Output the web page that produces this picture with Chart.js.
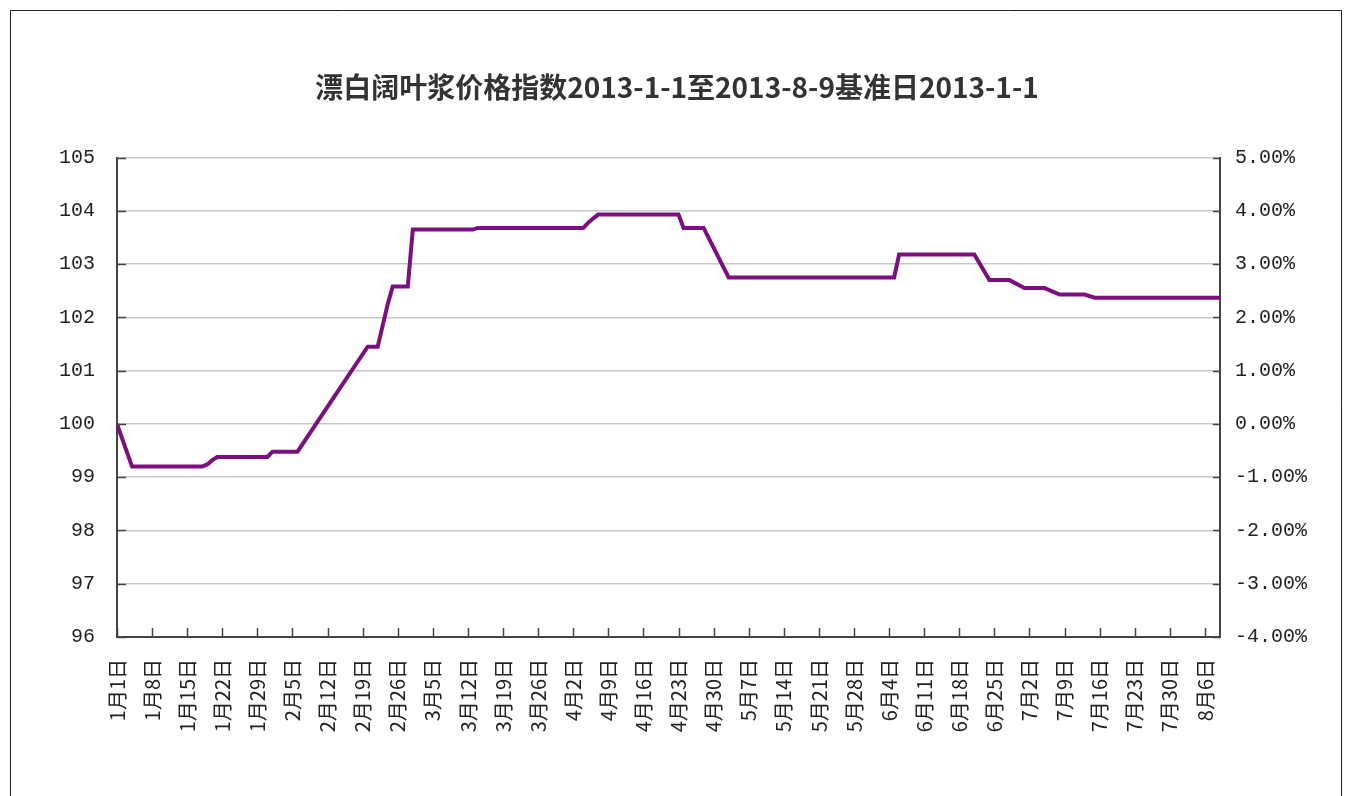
<!DOCTYPE html>
<html>
<head>
<meta charset="utf-8">
<script src="https://cdn.jsdelivr.net/npm/chart.js@4.4.0/dist/chart.umd.min.js"></script>
<style>
  html, body { margin: 0; padding: 0; background: #fff; }
</style>
</head>
<body>
<canvas id="myChart" width="1354" height="796"></canvas>
<script>
// day index from 1月1日 and index value
const days = [0, 3, 17, 18, 19, 20, 30, 31, 36, 50, 52, 53, 54, 55, 58, 59, 71, 72, 93, 94, 95, 96, 112, 113, 117, 122, 155, 156, 171, 174, 178, 181, 185, 188, 193, 195, 220];
const values = [100, 99.2, 99.2, 99.24, 99.32, 99.38, 99.38, 99.48, 99.48, 101.45, 101.45, 101.85, 102.25, 102.58, 102.58, 103.65, 103.65, 103.68, 103.68, 103.78, 103.86, 103.93, 103.93, 103.68, 103.68, 102.75, 102.75, 103.18, 103.18, 102.7, 102.7, 102.55, 102.55, 102.43, 102.43, 102.37, 102.37];

const tickLabels = ["1月1日", "1月8日", "1月15日", "1月22日", "1月29日", "2月5日", "2月12日", "2月19日", "2月26日", "3月5日", "3月12日", "3月19日", "3月26日", "4月2日", "4月9日", "4月16日", "4月23日", "4月30日", "5月7日", "5月14日", "5月21日", "5月28日", "6月4日", "6月11日", "6月18日", "6月25日", "7月2日", "7月9日", "7月16日", "7月23日", "7月30日", "8月6日"];

const titleText = "漂白阔叶浆价格指数2013-1-1至2013-8-9基准日2013-1-1";

const axisColor = "#444";

// short tick marks pointing into the plot, plus the outer frame
const innerTicks = {
  id: "innerTicks",
  afterDraw(chart) {
    const ctx = chart.ctx;
    const a = chart.chartArea;
    const x = chart.scales.x;
    const y = chart.scales.y;
    const y2 = chart.scales.y2;
    ctx.save();
    ctx.strokeStyle = axisColor;
    ctx.lineWidth = 1.5;
    ctx.beginPath();
    x.ticks.forEach(t => {
      const px = Math.round(x.getPixelForValue(t.value)) + 0.5;
      ctx.moveTo(px, a.bottom);
      ctx.lineTo(px, a.bottom - 9);
    });
    y.ticks.forEach(t => {
      const py = Math.round(y.getPixelForValue(t.value)) + 0.5;
      ctx.moveTo(a.left, py);
      ctx.lineTo(a.left + 9, py);
    });
    y2.ticks.forEach(t => {
      const py = Math.round(y2.getPixelForValue(t.value)) + 0.5;
      ctx.moveTo(a.right, py);
      ctx.lineTo(a.right - 7, py);
    });
    ctx.stroke();

    ctx.strokeStyle = "#222";
    ctx.lineWidth = 1;
    ctx.beginPath();
    ctx.moveTo(10.5, 796);
    ctx.lineTo(10.5, 10.5);
    ctx.lineTo(1341.5, 10.5);
    ctx.lineTo(1341.5, 796);
    ctx.stroke();
    ctx.restore();
  }
};

new Chart(document.getElementById("myChart"), {
  type: "line",
  data: {
    datasets: [
      {
        label: "指数",
        data: days.map((d, i) => ({ x: d, y: values[i] })),
        borderColor: "#7d0e80",
        borderWidth: 4,
        pointRadius: 0,
        tension: 0,
        yAxisID: "y"
      }
    ]
  },
  options: {
    responsive: false,
    animation: false,
    layout: { padding: 0 },
    plugins: {
      legend: { display: false },
      tooltip: { enabled: false },
      title: {
        display: true,
        text: titleText,
        color: "#333",
        font: { family: "Noto Sans CJK SC", size: 28, weight: "bold" },
        padding: { top: 71, bottom: 53 }
      }
    },
    scales: {
      x: {
        type: "linear",
        min: 0,
        max: 220,
        grid: { display: false, drawTicks: false },
        border: { display: true, color: axisColor, width: 2 },
        ticks: {
          stepSize: 7,
          includeBounds: false,
          autoSkip: false,
          minRotation: 90,
          maxRotation: 90,
          padding: 22,
          color: "#222",
          font: { family: "Noto Sans CJK SC", size: 20 },
          callback: v => tickLabels[v / 7]
        },
        afterFit: s => { s.height = 159; }
      },
      y: {
        position: "left",
        min: 96,
        max: 105,
        grid: { color: "#c8c8c8", lineWidth: 1.5, drawTicks: false },
        border: { display: true, color: axisColor, width: 2 },
        ticks: {
          stepSize: 1,
          padding: 22,
          color: "#222",
          font: { family: "Liberation Mono", size: 20 }
        },
        afterFit: s => { s.width = 117; }
      },
      y2: {
        position: "right",
        min: -4,
        max: 5,
        grid: { drawOnChartArea: false, drawTicks: false },
        border: { display: true, color: axisColor, width: 2 },
        ticks: {
          stepSize: 1,
          padding: 15,
          color: "#222",
          font: { family: "Liberation Mono", size: 20 },
          callback: v => v.toFixed(2) + "%"
        },
        afterFit: s => { s.width = 134; }
      }
    }
  },
  plugins: [innerTicks]
});
</script>
</body>
</html>
